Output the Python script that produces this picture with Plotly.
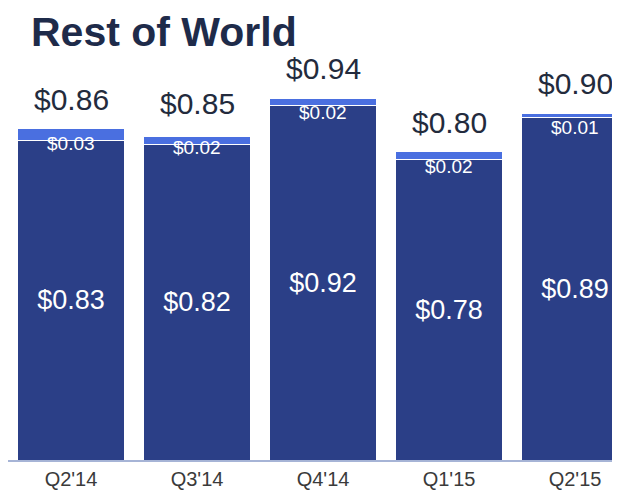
import plotly.graph_objects as go

quarters = ["Q2'14", "Q3'14", "Q4'14", "Q1'15", "Q2'15"]
base_vals = [0.83, 0.82, 0.92, 0.78, 0.89]
top_vals = [0.03, 0.02, 0.02, 0.02, 0.01]
totals = [0.86, 0.85, 0.94, 0.80, 0.90]

NAVY = "#2b3f87"
BLUE = "#4a6fe0"
FONT = "Liberation Sans, Arial"

fig = go.Figure()

fig.add_trace(go.Bar(
    x=quarters, y=base_vals,
    marker=dict(color=NAVY, line=dict(color="white", width=1)),
    text=[f"${v:.2f}" for v in base_vals],
    textposition="inside", insidetextanchor="middle",
    textfont=dict(color="white", size=27, family=FONT),
    textangle=0,
))
fig.add_trace(go.Bar(
    x=quarters, y=top_vals,
    marker=dict(color=BLUE, line=dict(color="white", width=1)),
    textposition="none",
))

# small labels for the top segment, and the totals above each bar
for q, t, v in zip(quarters, totals, top_vals):
    fig.add_annotation(x=q, y=t, text=f"${v:.2f}", showarrow=False,
                       yanchor="top", yshift=-2,
                       font=dict(color="white", size=19, family=FONT))
    fig.add_annotation(x=q, y=t, text=f"${t:.2f}", showarrow=False,
                       yanchor="bottom", yshift=11,
                       font=dict(color="#232b3d", size=30, family=FONT))

fig.add_annotation(x=0, y=1, xref="paper", yref="paper", xanchor="left", yanchor="top",
                   xshift=22, yshift=0, borderpad=0,
                   text="<b>Rest of World</b>", showarrow=False,
                   font=dict(color="#1e2b4a", size=41, family=FONT))

# page body adds an 8px offset, so the figure is 8px smaller each way
fig.update_layout(
    width=612, height=485,
    margin=dict(l=0, r=0, t=0, b=33),
    barmode="stack", bargap=0.15,
    showlegend=False,
    paper_bgcolor="white", plot_bgcolor="white",
    xaxis=dict(
        range=[-0.5, 4.357],
        showline=True, linecolor="#a6b4d6", linewidth=2,
        ticks="", showgrid=False,
        tickfont=dict(color="#3a3a3a", size=20, family=FONT),
    ),
    yaxis=dict(range=[0, 1.174], visible=False),
)

fig.write_html("out.html")
